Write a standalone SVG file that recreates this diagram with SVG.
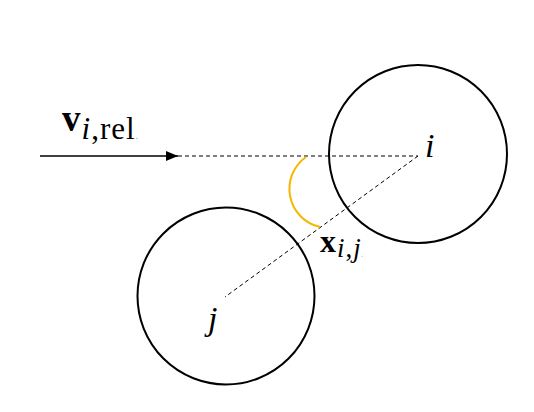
<svg xmlns="http://www.w3.org/2000/svg" width="534" height="412" viewBox="0 0 534 412">
<style>
.c{fill:none;stroke:#000;stroke-width:2}
.d{fill:none;stroke:#000;stroke-width:1;stroke-dasharray:4 3}
.t{font-family:"Liberation Serif",serif;fill:#000}
.b{font-weight:bold}
.it{font-style:italic}
.dot{fill:#999}
</style>
<defs>
<marker id="ah" markerWidth="12" markerHeight="10" refX="12" refY="5" orient="auto" markerUnits="userSpaceOnUse">
<path d="M0,0 L12,5 L0,10 Z" fill="#000"/>
</marker>
</defs>
<rect width="534" height="412" fill="#fff"/>
<g id="connectors">
<line x1="40" y1="156" x2="178" y2="156" stroke="#000" stroke-width="1.3" marker-end="url(#ah)"/>
<line class="d" x1="178" y1="156" x2="418" y2="156"/>
<line class="d" x1="418" y1="156" x2="225" y2="297"/>
<path d="M306,157 A39,39 0 0 0 320,227" fill="none" stroke="#f5b700" stroke-width="2"/>
</g>
<g id="node-i">
<circle class="c" cx="418" cy="154" r="89"/>
<text class="t it" x="425" y="157" font-size="34">i</text>
</g>
<g id="node-j">
<circle class="c" cx="226" cy="296" r="88.5"/>
<text class="t it" x="208" y="330" font-size="34">j</text>
</g>
<g id="label-v">
<text class="t" x="62" y="131" font-size="37"><tspan class="b">v</tspan><tspan class="it" font-size="31" dx="1" dy="8" letter-spacing="1">i</tspan><tspan font-size="31" letter-spacing="1">,rel</tspan><tspan class="dot" font-size="10">.</tspan></text>
</g>
<g id="label-x">
<text class="t" x="320" y="252" font-size="32"><tspan class="b">x</tspan><tspan class="it" font-size="27" dx="1" dy="5" letter-spacing="1">i</tspan><tspan font-size="27" letter-spacing="1">,</tspan><tspan class="it" font-size="27">j</tspan><tspan class="dot" font-size="8">.</tspan></text>
</g>
</svg>
